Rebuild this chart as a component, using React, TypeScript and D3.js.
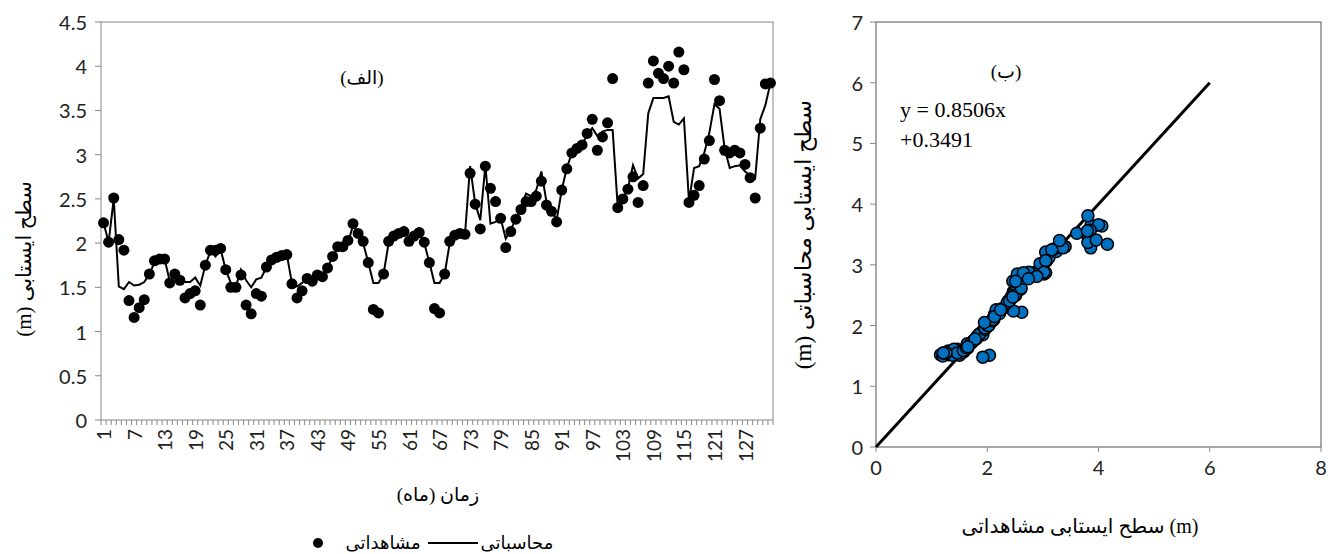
import React from "react";
import * as d3 from "d3";

const WIDTH = 1337;
const HEIGHT = 554;

// observed and computed water table level (m), months 1..132
const observed = [
  2.23, 2.01, 2.51, 2.04, 1.92, 1.35, 1.16, 1.27, 1.36, 1.65,
  1.8, 1.82, 1.82, 1.55, 1.65, 1.58, 1.38, 1.43, 1.46, 1.3,
  1.75, 1.92, 1.92, 1.94, 1.7, 1.5, 1.5, 1.64, 1.3, 1.2,
  1.43, 1.4, 1.73, 1.81, 1.84, 1.86, 1.87, 1.54, 1.38, 1.46,
  1.6, 1.57, 1.64, 1.62, 1.72, 1.85, 1.96, 1.96, 2.03, 2.22,
  2.11, 2.02, 1.78, 1.25, 1.21, 1.65, 2.02, 2.08, 2.11, 2.13,
  2.02, 2.08, 2.12, 2.01, 1.78, 1.26, 1.21, 1.65, 2.02, 2.09,
  2.11, 2.1, 2.79, 2.44, 2.16, 2.87, 2.62, 2.47, 2.28, 1.95,
  2.13, 2.27, 2.38, 2.47, 2.47, 2.53, 2.7, 2.43, 2.36, 2.24,
  2.6, 2.84, 3.02, 3.07, 3.11, 3.24, 3.4, 3.05, 3.2, 3.36,
  3.86, 2.4, 2.5, 2.61, 2.75, 2.46, 2.65, 3.81, 4.06, 3.92,
  3.86, 4.0, 3.81, 4.16, 3.96, 2.46, 2.54, 2.65, 2.95, 3.16,
  3.85, 3.61, 3.05, 3.02, 3.05, 3.02, 2.89, 2.74, 2.51, 3.3,
  3.8, 3.81
];

const computed = [
  2.23, 2.01, 2.5, 1.51, 1.48, 1.56, 1.52, 1.53, 1.56, 1.65,
  1.78, 1.82, 1.82, 1.57, 1.63, 1.57, 1.56, 1.56, 1.61, 1.52,
  1.75, 1.91, 1.85, 1.93, 1.7, 1.55, 1.51, 1.7, 1.58, 1.5,
  1.59, 1.61, 1.73, 1.81, 1.84, 1.86, 1.87, 1.55, 1.51, 1.55,
  1.6, 1.59, 1.64, 1.64, 1.72, 1.85, 1.94, 1.96, 2.0, 2.2,
  2.12, 2.0, 1.78, 1.55, 1.55, 1.65, 2.0, 2.07, 2.12, 2.18,
  2.05, 2.08, 2.1, 2.0, 1.78, 1.55, 1.55, 1.65, 2.0, 2.08,
  2.1, 2.1, 2.87, 2.45, 2.26, 2.88, 2.22, 2.24, 2.28, 2.05,
  2.15, 2.28, 2.41, 2.56, 2.53, 2.6, 2.81, 2.47, 2.38, 2.26,
  2.6, 2.85, 3.02, 3.07, 3.12, 3.22, 3.3, 3.21, 3.26, 3.28,
  3.28, 2.41, 2.5, 2.62, 2.88, 2.73, 2.78, 3.47, 3.64, 3.64,
  3.64, 3.66, 3.37, 3.34, 3.41, 2.47, 2.85, 2.87, 3.02, 3.25,
  3.57, 3.52, 3.07, 2.85, 2.87, 2.88, 2.81, 2.77, 2.73, 3.4,
  3.56, 3.81
];

const months = observed.map((_, i) => i + 1);
const monthLabels = months.filter(m => (m - 1) % 6 === 0);
const levelTicks = [0, 0.5, 1, 1.5, 2, 2.5, 3, 3.5, 4, 4.5];
const scatterXTicks = [0, 2, 4, 6, 8];
const scatterYTicks = [0, 1, 2, 3, 4, 5, 6, 7];
const fitRange = [0, 6];

const LEFT = { left: 101, right: 773, top: 22, bottom: 420 };
const RIGHT = { left: 876, right: 1321, top: 22, bottom: 447 };

const AXIS = "#868686";
const NUM_FONT = "Lato, 'Open Sans', sans-serif";
const FA_FONT = "'Liberation Serif', 'DejaVu Sans', serif";

export default function App() {
  const x = d3
    .scaleBand<number>()
    .domain(months)
    .range([LEFT.left, LEFT.right]);
  const bw = x.bandwidth();
  const cx = (m: number) => (x(m) as number) + bw / 2;
  const y = d3
    .scaleLinear()
    .domain([0, 4.5])
    .range([LEFT.bottom, LEFT.top]);

  const computedLine = d3
    .line<number>()
    .x((_, i) => cx(months[i]))
    .y(d => y(d))(computed);

  const sx = d3.scaleLinear().domain([0, 8]).range([RIGHT.left, RIGHT.right]);
  const sy = d3.scaleLinear().domain([0, 7]).range([RIGHT.bottom, RIGHT.top]);

  return (
    <div style={{ position: "absolute", left: 0, top: 0 }}>
      <svg width={WIDTH} height={HEIGHT} style={{ display: "block", background: "#fff" }}>
        {/* left chart frame */}
        <rect
          x={LEFT.left}
          y={LEFT.top}
          width={LEFT.right - LEFT.left}
          height={LEFT.bottom - LEFT.top}
          fill="none"
          stroke={AXIS}
          strokeWidth={1}
        />
        {levelTicks.map(t => (
          <g key={"ly" + t}>
            <line x1={LEFT.left - 6} x2={LEFT.left} y1={y(t)} y2={y(t)} stroke={AXIS} />
            <text
              x={LEFT.left - 14}
              y={y(t)}
              textAnchor="end"
              dominantBaseline="central"
              fontFamily={NUM_FONT}
              fontSize={20}
              fill="#222"
            >
              {t}
            </text>
          </g>
        ))}
        {months.concat([months.length + 1]).map(m => {
          const px = m <= months.length ? (x(m) as number) : LEFT.right;
          return <line key={"lx" + m} x1={px} x2={px} y1={LEFT.bottom} y2={LEFT.bottom + 5} stroke={AXIS} />;
        })}
        {monthLabels.map(m => (
          <text
            key={"ml" + m}
            transform={`translate(${cx(m)},${LEFT.bottom + 9}) rotate(-90)`}
            textAnchor="end"
            dominantBaseline="central"
            fontFamily={NUM_FONT}
            fontSize={19}
            fill="#222"
          >
            {m}
          </text>
        ))}
        <path d={computedLine || ""} fill="none" stroke="#000" strokeWidth={2} />
        {observed.map((v, i) => (
          <circle key={"o" + i} cx={cx(months[i])} cy={y(v)} r={5.5} fill="#000" />
        ))}
        <text x={362} y={84} textAnchor="middle" fontFamily={FA_FONT} fontSize={19} direction="rtl">
          (الف)
        </text>
        <text
          transform={`translate(24,${(LEFT.top + LEFT.bottom) / 2 + 38}) rotate(-90)`}
          textAnchor="middle"
          dominantBaseline="central"
          fontFamily={FA_FONT}
          fontSize={21}
          direction="rtl"
        >
          سطح ایستابی (m)
        </text>
        <text x={438} y={501} textAnchor="middle" fontFamily={FA_FONT} fontSize={19} direction="rtl">
          زمان (ماه)
        </text>
        {/* legend */}
        <circle cx={318} cy={543} r={5} fill="#000" />
        <text x={383} y={549} textAnchor="middle" fontFamily={FA_FONT} fontSize={18} direction="rtl">
          مشاهداتی
        </text>
        <line x1={428} x2={478} y1={543} y2={543} stroke="#000" strokeWidth={2} />
        <text x={517} y={549} textAnchor="middle" fontFamily={FA_FONT} fontSize={18} direction="rtl">
          محاسباتی
        </text>

        {/* right chart frame */}
        <rect
          x={RIGHT.left}
          y={RIGHT.top}
          width={RIGHT.right - RIGHT.left}
          height={RIGHT.bottom - RIGHT.top}
          fill="none"
          stroke="#6e6e6e"
          strokeWidth={1.2}
        />
        {scatterYTicks.map(t => (
          <g key={"sy" + t}>
            <line x1={RIGHT.left - 6} x2={RIGHT.left} y1={sy(t)} y2={sy(t)} stroke={AXIS} />
            <text
              x={RIGHT.left - 13}
              y={sy(t)}
              textAnchor="end"
              dominantBaseline="central"
              fontFamily={NUM_FONT}
              fontSize={20}
              fill="#222"
            >
              {t}
            </text>
          </g>
        ))}
        {scatterXTicks.map(t => (
          <g key={"sx" + t}>
            <line x1={sx(t)} x2={sx(t)} y1={RIGHT.bottom} y2={RIGHT.bottom + 5} stroke={AXIS} />
            <text
              x={sx(t)}
              y={RIGHT.bottom + 20}
              textAnchor="middle"
              dominantBaseline="central"
              fontFamily={NUM_FONT}
              fontSize={20}
              fill="#222"
            >
              {t}
            </text>
          </g>
        ))}
        <line
          x1={sx(fitRange[0])}
          y1={sy(fitRange[0])}
          x2={sx(fitRange[1])}
          y2={sy(fitRange[1])}
          stroke="#000"
          strokeWidth={3}
        />
        {observed.map((v, i) => (
          <circle
            key={"s" + i}
            cx={sx(v)}
            cy={sy(computed[i])}
            r={6}
            fill="#0070c0"
            stroke="#000"
            strokeWidth={1.5}
          />
        ))}
        <text x={1006} y={78} textAnchor="middle" fontFamily={FA_FONT} fontSize={19} direction="rtl">
          (ب)
        </text>
        <text x={900} y={117} fontFamily="'Liberation Serif', serif" fontSize={22}>
          y = 0.8506x
        </text>
        <text x={900} y={147} fontFamily="'Liberation Serif', serif" fontSize={22}>
          +0.3491
        </text>
        <text
          transform={`translate(803,${(RIGHT.top + RIGHT.bottom) / 2}) rotate(-90)`}
          textAnchor="middle"
          dominantBaseline="central"
          fontFamily={FA_FONT}
          fontSize={23}
          direction="rtl"
        >
          سطح ایستابی محاسباتی (m)
        </text>
        <text x={1080} y={533} textAnchor="middle" fontFamily={FA_FONT} fontSize={20}>
          سطح ایستابی مشاهداتی (m)
        </text>
      </svg>
    </div>
  );
}
